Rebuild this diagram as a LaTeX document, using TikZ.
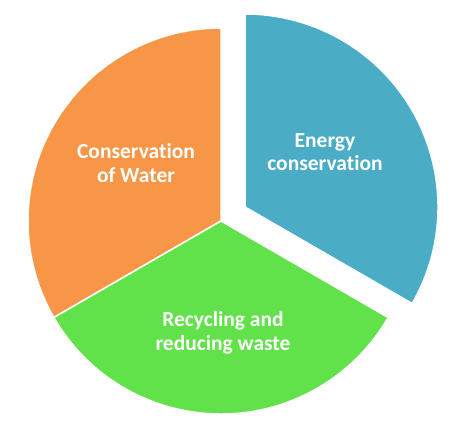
\documentclass[tikz,border=0pt]{standalone}
\usepackage{fontspec}
\setmainfont{Carlito}[Ligatures=NoCommon]
\definecolor{cwater}{HTML}{F79646}
\definecolor{cenergy}{HTML}{4BACC6}
\definecolor{crecyc}{HTML}{62E24A}

\begin{document}
\begin{tikzpicture}[x=1pt, y=1pt,
  slice/.style={fill=#1, draw=white, line width=1.5pt, line join=round},
  lbl/.style={text=white, font=\fontsize{21.5}{23.5}\selectfont\bfseries, align=center}
]
\useasboundingbox (0,0) rectangle (458,427);
\coordinate (ctr)  at (221,206);
\coordinate (ectr) at (245,220);

% three slices, the blue one pulled out
\draw[slice=cwater]  (ctr)  -- ++(90:193pt)  arc[start angle=90,  end angle=210, radius=193pt] -- cycle;
\draw[slice=crecyc]  (ctr)  -- ++(210:193pt) arc[start angle=210, end angle=330, radius=193pt] -- cycle;
\draw[slice=cenergy] (ectr) -- ++(-30:193pt) arc[start angle=-30, end angle=90,  radius=193pt] -- cycle;

\node[lbl] (water)  at (136,264) {Conservation\\of Water};
\node[lbl] (energy) at (325,275) {Energy\\conservation};
\node[lbl] (recyc)  at (223,94)  {Recycling and\\reducing waste};
\end{tikzpicture}
\end{document}
